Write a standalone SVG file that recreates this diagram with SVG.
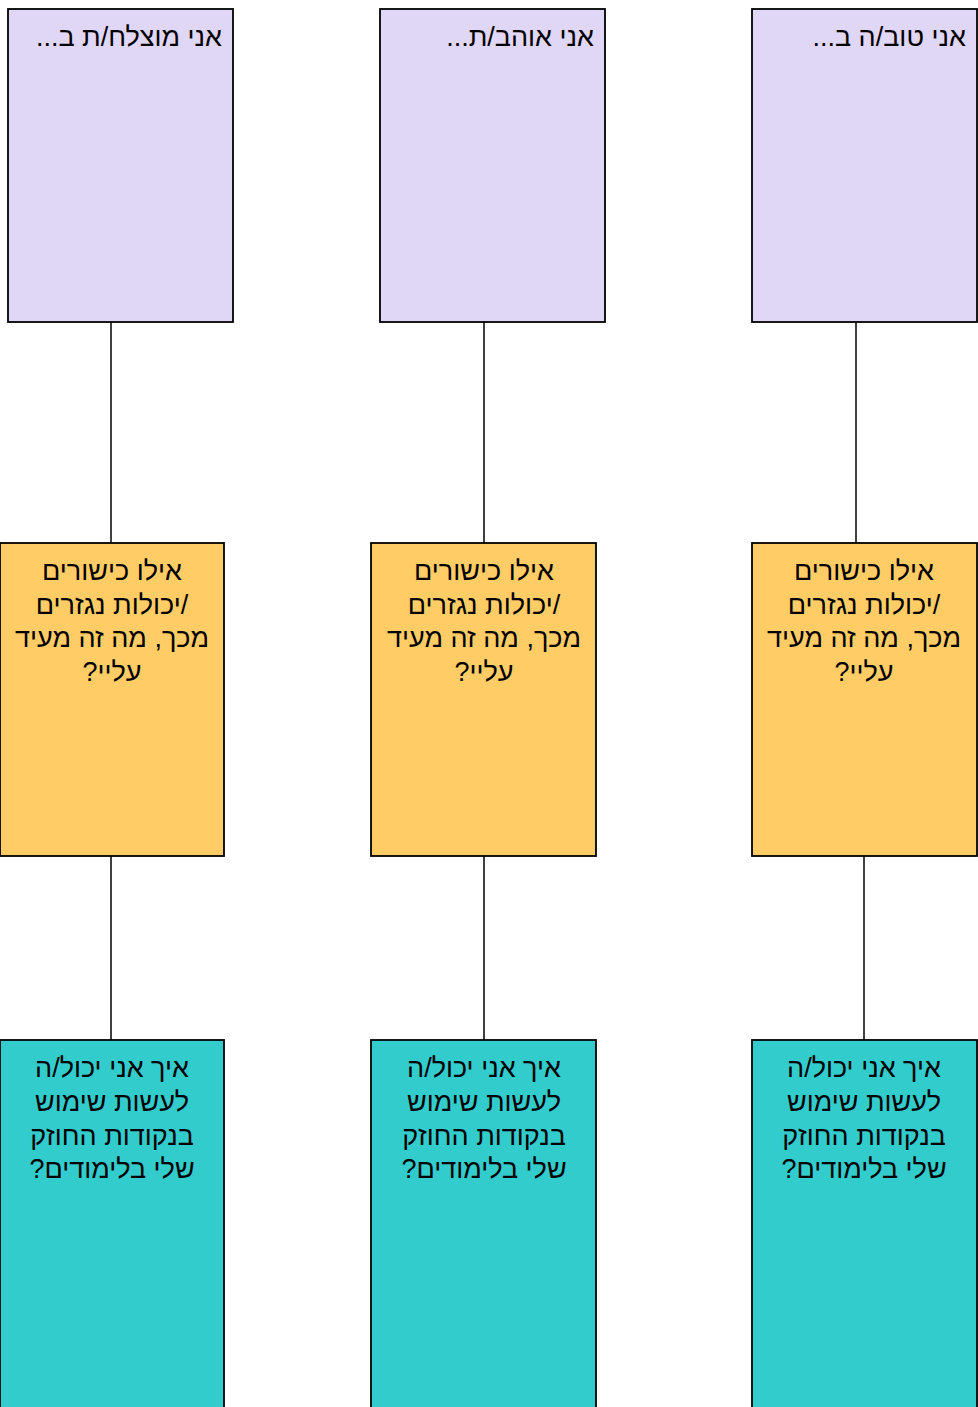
<svg xmlns="http://www.w3.org/2000/svg" width="978" height="1407" viewBox="0 0 978 1407">
<style>
.box{stroke:#000;stroke-width:1.8}
.p{fill:#E0D6F5}
.o{fill:#FFCC66}
.t{fill:#33CCCC}
.conn line{stroke:#000;stroke-width:1.5}
text{font-family:"Liberation Sans",Arial,sans-serif;font-size:27px;fill:#000}
.c{direction:rtl;unicode-bidi:embed;text-anchor:middle}
.r{direction:rtl;unicode-bidi:embed;text-anchor:start}
</style>
<rect width="978" height="1407" fill="#fff"/>
<g id="connectors" class="conn">
<line x1="111" y1="322" x2="111" y2="543"/>
<line x1="111" y1="856" x2="111" y2="1040"/>
<line x1="484" y1="322" x2="484" y2="543"/>
<line x1="484" y1="856" x2="484" y2="1040"/>
<line x1="856" y1="322" x2="856" y2="543"/>
<line x1="864" y1="856" x2="864" y2="1040"/>
</g>
<g id="top-left"><rect class="box p" x="8" y="9" width="225" height="313"/><text class="r" x="222" y="46" direction="rtl">אני מוצלח/ת ב...</text></g>
<g id="top-mid"><rect class="box p" x="380" y="9" width="225" height="313"/><text class="r" x="594" y="46" direction="rtl">אני אוהב/ת...</text></g>
<g id="top-right"><rect class="box p" x="752" y="9" width="225" height="313"/><text class="r" x="966" y="46" direction="rtl">אני טוב/ה ב...</text></g>
<g id="mid-left"><rect class="box o" x="0" y="543" width="224" height="313"/>
<text class="c" x="112" y="580" direction="rtl">אילו כישורים</text>
<text class="c" x="112" y="614" direction="rtl">/יכולות נגזרים</text>
<text class="c" x="112" y="647" direction="rtl">מכך, מה זה מעיד</text>
<text class="c" x="112" y="681" direction="rtl">עליי?</text></g>
<g id="mid-mid"><rect class="box o" x="371" y="543" width="225" height="313"/>
<text class="c" x="484" y="580" direction="rtl">אילו כישורים</text>
<text class="c" x="484" y="614" direction="rtl">/יכולות נגזרים</text>
<text class="c" x="484" y="647" direction="rtl">מכך, מה זה מעיד</text>
<text class="c" x="484" y="681" direction="rtl">עליי?</text></g>
<g id="mid-right"><rect class="box o" x="752" y="543" width="225" height="313"/>
<text class="c" x="864" y="580" direction="rtl">אילו כישורים</text>
<text class="c" x="864" y="614" direction="rtl">/יכולות נגזרים</text>
<text class="c" x="864" y="647" direction="rtl">מכך, מה זה מעיד</text>
<text class="c" x="864" y="681" direction="rtl">עליי?</text></g>
<g id="bot-left"><rect class="box t" x="0" y="1040" width="224" height="380"/>
<text class="c" x="112" y="1077" direction="rtl">איך אני יכול/ה</text>
<text class="c" x="112" y="1111" direction="rtl">לעשות שימוש</text>
<text class="c" x="112" y="1145" direction="rtl">בנקודות החוזק</text>
<text class="c" x="112" y="1178" direction="rtl">שלי בלימודים?</text></g>
<g id="bot-mid"><rect class="box t" x="371" y="1040" width="225" height="380"/>
<text class="c" x="484" y="1077" direction="rtl">איך אני יכול/ה</text>
<text class="c" x="484" y="1111" direction="rtl">לעשות שימוש</text>
<text class="c" x="484" y="1145" direction="rtl">בנקודות החוזק</text>
<text class="c" x="484" y="1178" direction="rtl">שלי בלימודים?</text></g>
<g id="bot-right"><rect class="box t" x="752" y="1040" width="225" height="380"/>
<text class="c" x="864" y="1077" direction="rtl">איך אני יכול/ה</text>
<text class="c" x="864" y="1111" direction="rtl">לעשות שימוש</text>
<text class="c" x="864" y="1145" direction="rtl">בנקודות החוזק</text>
<text class="c" x="864" y="1178" direction="rtl">שלי בלימודים?</text></g>
</svg>
